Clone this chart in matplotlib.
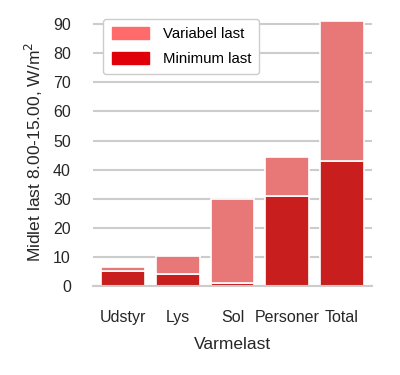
import matplotlib
matplotlib.use("Agg")
import matplotlib.pyplot as plt
import matplotlib.patches as mpatches
import numpy as np

kategorier = ["Udstyr", "Lys", "Sol", "Personer", "Total"]
minimum_last = [5.2, 4.0, 1.0, 31.0, 43.0]
variabel_last = [1.2, 6.2, 29.0, 13.4, 48.2]

farve_var = "#e87777"
farve_min = "#c81e1e"
legend_var = "#ff6b6b"
legend_min = "#e0000a"

plt.rcParams["font.family"] = ["Liberation Sans", "DejaVu Sans"]

fig = plt.figure(figsize=(4, 3.75), dpi=100)
ax = fig.add_axes([0.2325, 0.237, 0.6975, 0.718])

x = np.arange(len(kategorier))
ax.bar(x, minimum_last, width=0.8, color=farve_min, edgecolor="white", linewidth=1.2, zorder=2)
ax.bar(x, variabel_last, bottom=minimum_last, width=0.8, color=farve_var,
       edgecolor="white", linewidth=1.2, zorder=2)

ax.set_xlim(-0.55, 4.55)
ax.set_ylim(0, 92.5)
ax.set_yticks(range(0, 91, 10))
ax.set_xticks(x)
ax.set_xticklabels(kategorier)
ax.yaxis.grid(True, color="#cccccc", linewidth=1.5, zorder=0)
ax.set_axisbelow(True)
for s in ["left", "top", "right"]:
    ax.spines[s].set_visible(False)
ax.spines["bottom"].set_color("#cccccc")
ax.spines["bottom"].set_linewidth(1.5)
ax.tick_params(axis="both", length=0, labelsize=11.5, colors="#262626")
ax.tick_params(axis="y", pad=16)
ax.tick_params(axis="x", pad=17)

ax.set_xlabel("Varmelast", fontsize=12.5, color="#262626", labelpad=9)
ax.set_ylabel("Midlet last 8.00-15.00, W/m$^2$", fontsize=12.5, color="#262626", labelpad=6)

handles = [mpatches.Patch(color=legend_var, label="Variabel last"),
           mpatches.Patch(color=legend_min, label="Minimum last")]
ax.legend(handles=handles, loc="upper left", bbox_to_anchor=(0.01, 1.02), fontsize=10.8,
          handlelength=2.5, handleheight=0.85, frameon=True, edgecolor="#cccccc",
          framealpha=1.0, borderpad=0.55, labelspacing=0.7, handletextpad=0.9)

fig.savefig("out.png", dpi=100)
